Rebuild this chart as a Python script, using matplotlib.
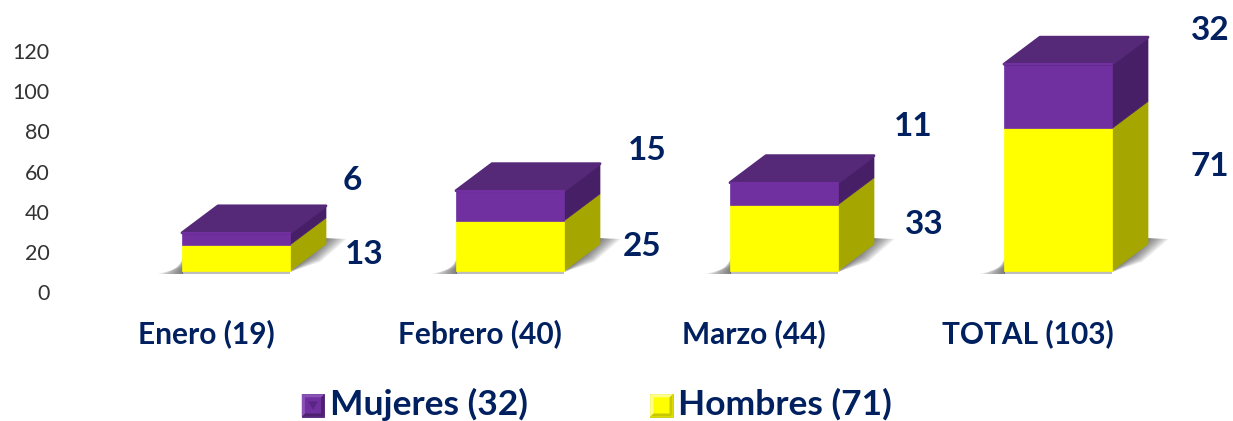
import matplotlib
matplotlib.use('Agg')
import matplotlib.pyplot as plt
from matplotlib.patches import Polygon, Rectangle
from matplotlib.legend_handler import HandlerBase
from matplotlib.transforms import ScaledTranslation

plt.rcParams['font.family'] = ['Lato', 'DejaVu Sans']

categories = ['Enero (19)', 'Febrero (40)', 'Marzo (44)', 'TOTAL (103)']
hombres = [13, 25, 33, 71]
mujeres = [6, 15, 11, 32]
legend_labels = ['Mujeres (32)', 'Hombres (71)']
yticks = [0, 20, 40, 60, 80, 100, 120]

# label offsets from the bar's right front corner, in pixels
offs_h = [(74, 16), (78, 24), (86, 46), (98, 105)]
offs_m = [(62, 90), (83, 121), (75, 144), (98, 240)]

NAVY = '#002060'
W, H = 1233, 421
PX_X = 274.0    # pixels per category
PX_Y = 2.008    # pixels per unit
FLOOR = 21 / PX_Y   # bars stand above the zero tick
BAR = 108 / PX_X
DX = 36 / PX_X
DY = 27 / PX_Y

fig = plt.figure(figsize=(W / 100, H / 100), dpi=100)
left, bottom = 60, 421 - 310
ax = fig.add_axes([left / W, bottom / H, 1 - left / W, 310 / H])
ax.set_xlim((left - 236) / PX_X, (W - 236) / PX_X)
ax.set_ylim(-18 / PX_Y, 292 / PX_Y)
for s in ax.spines.values():
    s.set_visible(False)
ax.set_yticks(yticks)
ax.set_xticks(range(len(categories)))
ax.set_xticklabels(categories, fontsize=21.5, fontweight='bold', color=NAVY)
ax.tick_params(axis='x', length=0, pad=6.5)
ax.tick_params(axis='y', length=0, pad=7.5, labelsize=15.5, labelcolor='#333333')
# category names sit left of the bars in the original
for lab in ax.get_xticklabels():
    lab.set_transform(lab.get_transform() + ScaledTranslation(-0.30, 0, fig.dpi_scale_trans))


def box(i, y0, y1, front, top, side):
    x0, x1 = i - BAR / 2, i + BAR / 2
    ax.add_patch(Polygon([(x1, y0), (x1 + DX, y0 + DY), (x1 + DX, y1 + DY), (x1, y1)],
                         fc=side, ec=side, lw=0.5, zorder=3))
    ax.add_patch(Rectangle((x0, y0), BAR, y1 - y0, fc=front, ec=front, lw=0.5, zorder=4))
    if top:
        ax.add_patch(Polygon([(x0, y1), (x1, y1), (x1 + DX, y1 + DY), (x0 + DX, y1 + DY)],
                             fc=top, ec=top, lw=2, joinstyle='round', zorder=5))
        ax.plot([x0, x1], [y1, y1], color=front, lw=1.5,
                solid_capstyle='round', zorder=6)


def shadow(i):
    x1 = i + BAR / 2
    x0 = i - BAR / 2
    px, py = 1 / PX_X, 1 / PX_Y
    steps = 16
    for k in range(steps):
        f = 1 - k / steps
        # right wedge, fades outward from the side face
        ax.add_patch(Polygon([(x1, FLOOR - py), (x1 + DX * 0.6 + f * 9 * px, FLOOR + DY * 0.6 - f * 7 * py),
                              (x1 + DX + f * 21 * px, FLOOR + DY + 5 * py), (x1 + DX, FLOOR + DY + 6 * py)],
                             fc='#303030', ec='none', alpha=0.05, zorder=1))
        # left wedge
        ax.add_patch(Polygon([(x0 - f * 25 * px, FLOOR - 3 * py), (x0 + px, FLOOR - 3 * py),
                              (x0 + px, FLOOR + (3 + 14 * (1 - f)) * py)],
                             fc='#303030', ec='none', alpha=0.05, zorder=1))
        # floor band
        ax.add_patch(Rectangle((x0, FLOOR - 3 * py), BAR, 3 * py,
                               fc='#808080', ec='none', alpha=0.04, zorder=1))


for i in range(len(categories)):
    shadow(i)
    y1 = FLOOR + hombres[i]
    y2 = y1 + mujeres[i]
    box(i, FLOOR, y1, '#FFFF00', None, '#A6A600')
    box(i, y1, y2, '#7030A0', '#562878', '#471F66')
    xr = i + BAR / 2
    ax.annotate(str(hombres[i]), (xr, FLOOR), xytext=offs_h[i],
                textcoords='offset pixels', ha='center', va='center',
                fontsize=24, fontweight='bold', color=NAVY, annotation_clip=False)
    ax.annotate(str(mujeres[i]), (xr, FLOOR), xytext=offs_m[i],
                textcoords='offset pixels', ha='center', va='center',
                fontsize=24, fontweight='bold', color=NAVY, annotation_clip=False)


class Bevel(HandlerBase):
    def __init__(self, base, light, dark, mid):
        super().__init__()
        self.base, self.light, self.dark, self.mid = base, light, dark, mid

    def create_artists(self, legend, orig, xd, yd, w, h, fs, trans):
        s = h
        b = s * 0.14
        y = -1.5
        sq = lambda pts: [(a, c + y) for a, c in pts]
        return [Rectangle((0, y), s, s, fc=self.base, ec=self.dark, lw=0.6, transform=trans),
                Polygon(sq([(0, 0), (s, 0), (s - b, b), (b, b)]), fc=self.dark, ec='none', transform=trans),
                Polygon(sq([(s, 0), (s, s), (s - b, s - b), (s - b, b)]), fc=self.dark, ec='none', transform=trans),
                Polygon(sq([(0, s), (s, s), (s - b, s - b), (b, s - b)]), fc=self.light, ec='none', transform=trans),
                Polygon(sq([(0, 0), (0, s), (b, s - b), (b, b)]), fc=self.light, ec='none', transform=trans),
                Polygon(sq([(s * 0.28, s * 0.68), (s * 0.72, s * 0.68), (s * 0.5, s * 0.3)]),
                        fc=self.mid, ec='none', transform=trans)]


h_m = Rectangle((0, 0), 1, 1)
h_h = Rectangle((0, 0), 1, 1)
leg = fig.legend([h_m, h_h], legend_labels,
                 handler_map={h_m: Bevel('#7030A0', '#8a52b5', '#4d2070', '#5a2685'),
                              h_h: Bevel('#FFFF00', '#FFFF90', '#C8C800', '#FFFF00')},
                 loc='center', bbox_to_anchor=(597 / W, 1 - 404 / H), ncol=2, frameon=False,
                 labelcolor=NAVY, prop={'weight': 'bold', 'size': 25.5},
                 handlelength=0.6, handleheight=0.6, handletextpad=0.2, columnspacing=3.45)

fig.savefig('out.png', dpi=100)
